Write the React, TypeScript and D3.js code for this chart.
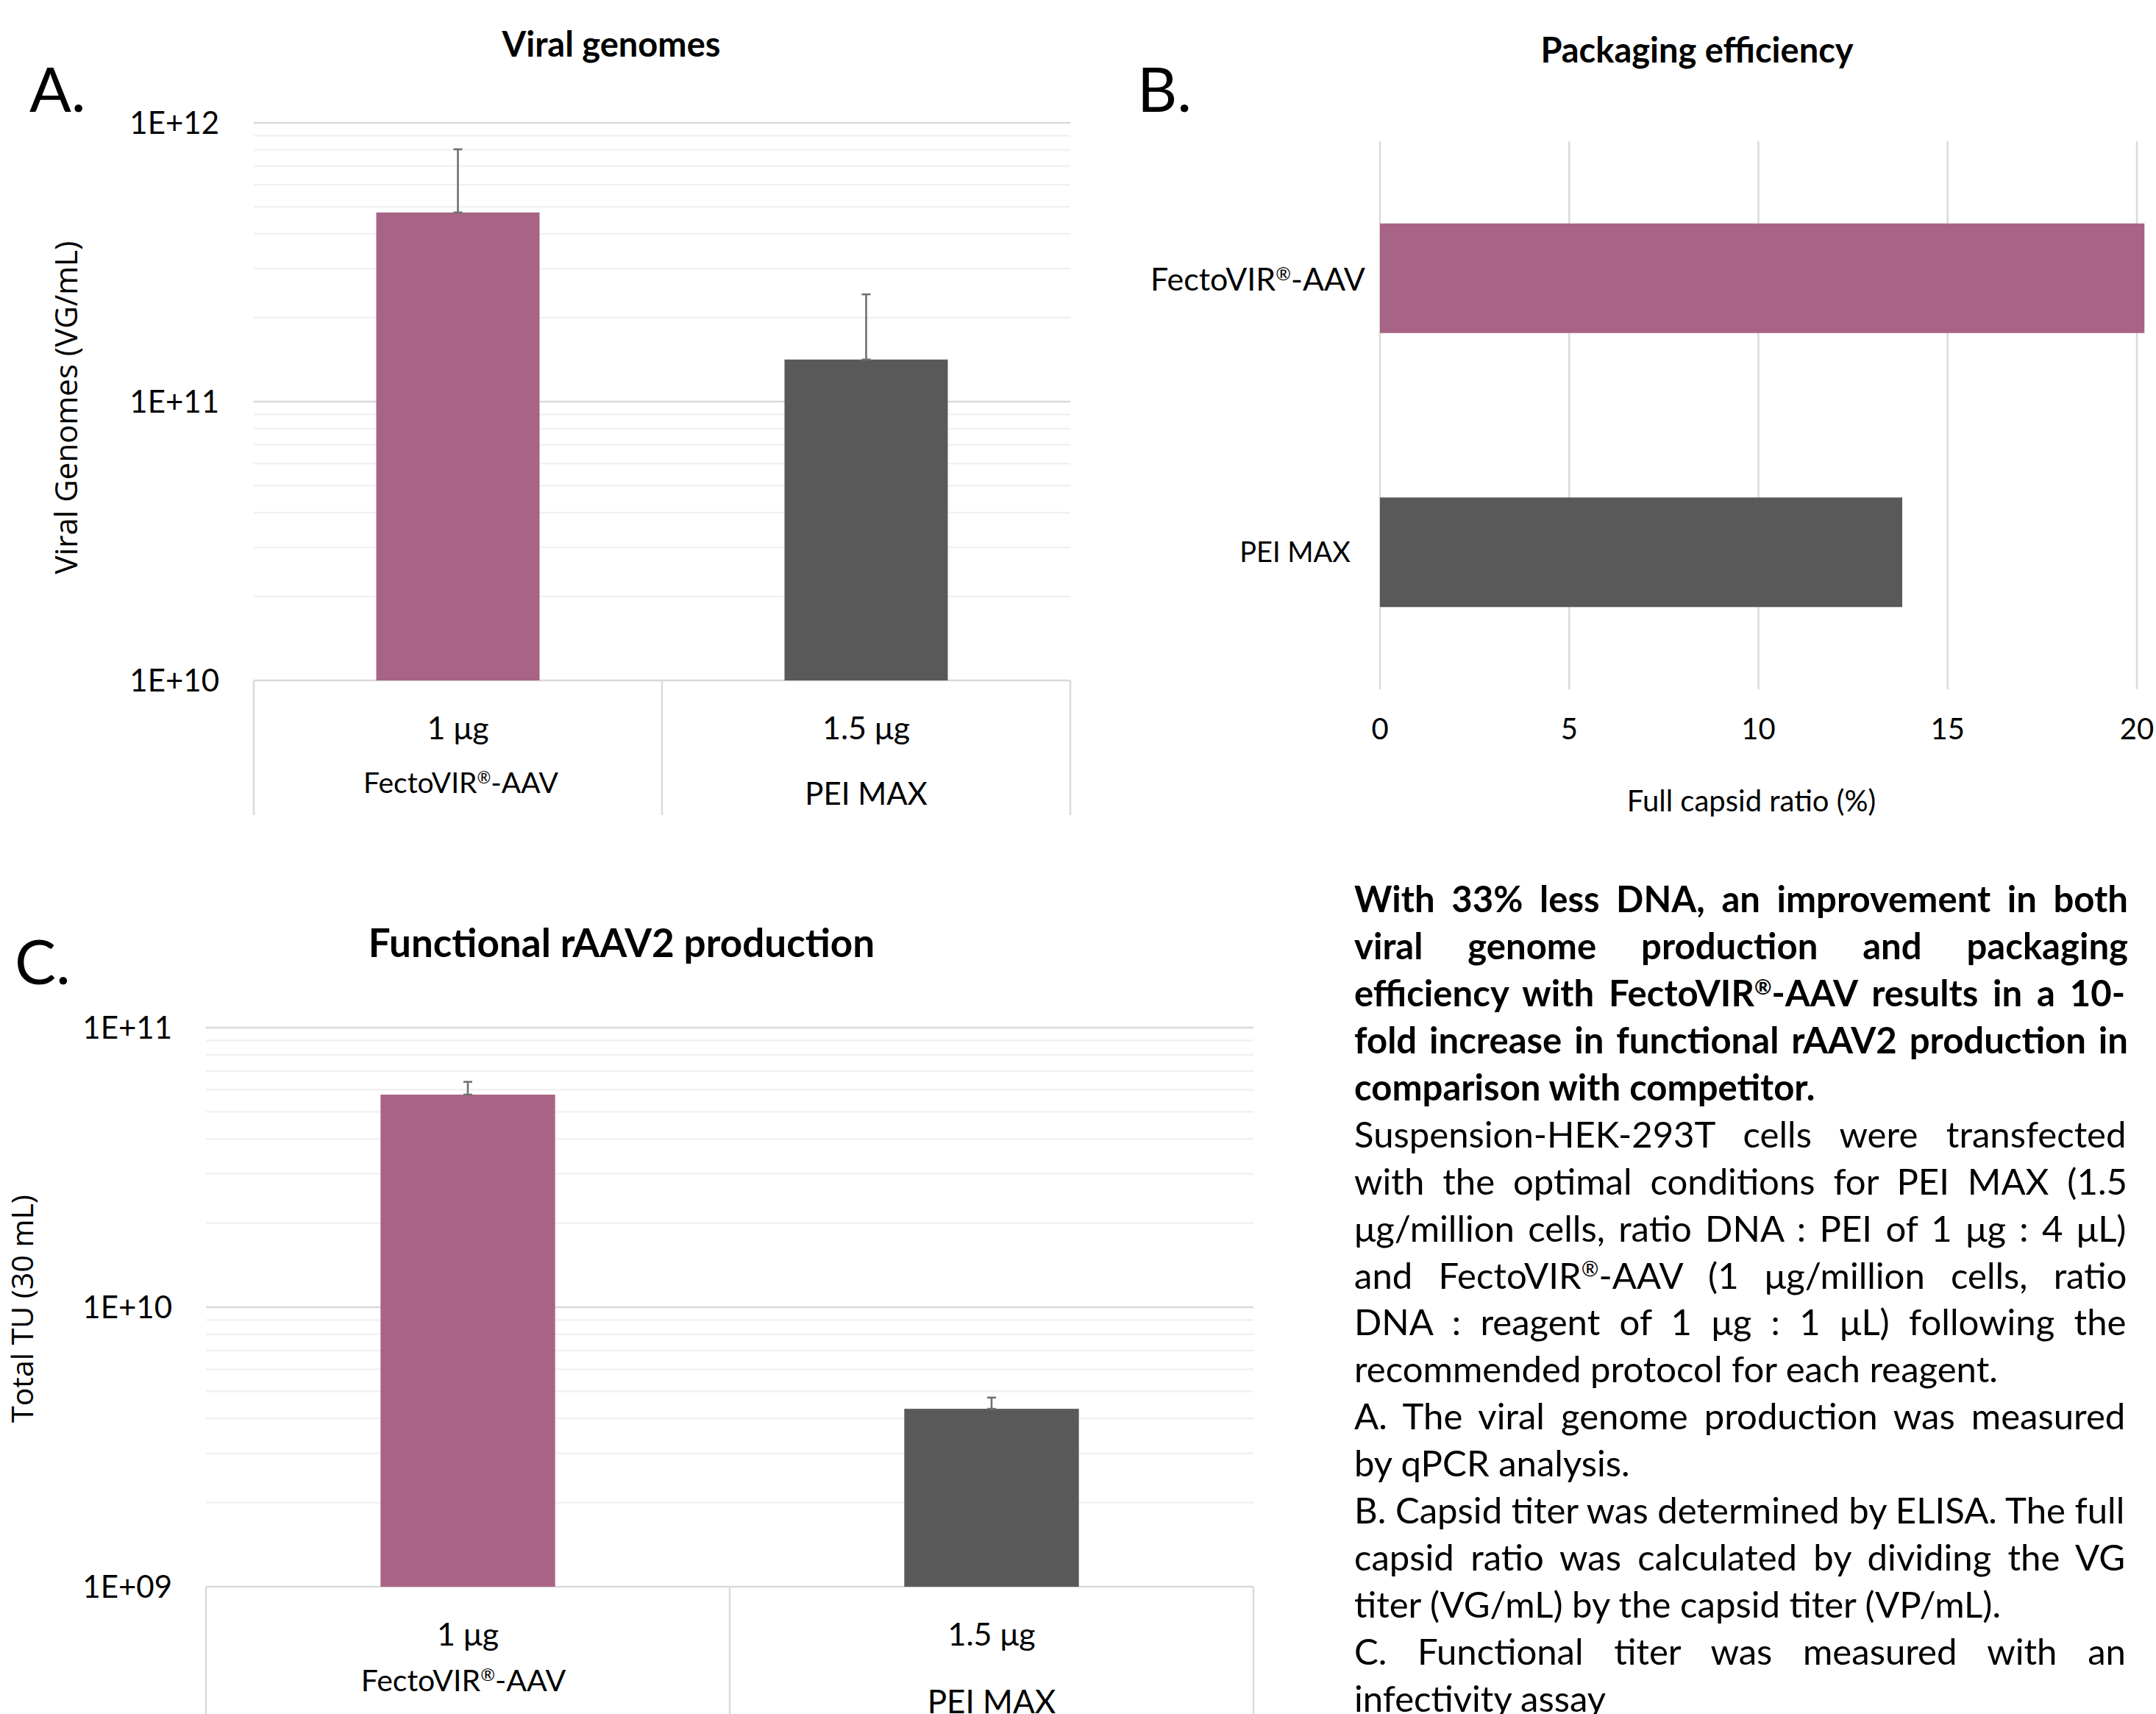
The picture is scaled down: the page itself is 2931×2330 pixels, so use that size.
import React, { useMemo } from "react";
import * as d3 from "d3";

// ---------- DATA ----------
const doseLabels = ["1 μg", "1.5 μg"];
const reagents = ["FectoVIR®-AAV", "PEI MAX"];

// A. Viral genomes (VG/mL)
const viralGenomes = [4.77e11, 1.416e11];
const viralGenomesErr = [3.27e11, 1.01e11];
const ticksA = [1e10, 1e11, 1e12];

// B. Packaging efficiency (Full capsid ratio %)
const fullCapsidRatio = [20.2, 13.8];
const ticksB = [0, 5, 10, 15, 20];

// C. Functional rAAV2 production (Total TU in 30 mL)
const totalTU = [5.76e10, 4.33e9];
const totalTUErr = [0.64e10, 0.42e9];
const ticksC = [1e9, 1e10, 1e11];

const boldLines = [
  "With 33% less DNA, an improvement in both",
  "viral genome production and packaging",
  "efficiency with FectoVIR®-AAV results in a 10-",
  "fold increase in functional rAAV2 production in",
  "comparison with competitor.",
];
const regularParagraphs = [
  [
    "Suspension-HEK-293T cells were transfected",
    "with the optimal conditions for PEI MAX (1.5",
    "μg/million cells, ratio DNA : PEI of 1 μg : 4 μL)",
    "and FectoVIR®-AAV (1 μg/million cells, ratio",
    "DNA : reagent of 1 μg : 1 μL) following the",
    "recommended protocol for each reagent.",
  ],
  ["A. The viral genome production was measured", "by qPCR analysis."],
  [
    "B. Capsid titer was determined by ELISA. The full",
    "capsid ratio was calculated by dividing the VG",
    "titer (VG/mL) by the capsid titer (VP/mL).",
  ],
  ["C. Functional titer was measured with an", "infectivity assay"],
];

// ---------- STYLE ----------
const FONT = 'Lato, "Open Sans", sans-serif';
const AXIS_FONT = '"Open Sans", "Noto Sans", sans-serif';
const PINK = "#A86486";
const GREY = "#595959";
const MAJOR = "#d9d9d9";
const MINOR = "#f0f0f0";
const ERR = "#707070";
const SUP = 0.58;
const SUPDY = 0.33;

const expLabel = (v: number) => "1E+" + String(Math.round(Math.log10(v))).padStart(2, "0");

// renders a string, turning "®" into a small superscript
function Rich({ text, size }: { text: string; size: number }) {
  const parts = text.split("®");
  const out: React.ReactNode[] = [];
  parts.forEach((p, i) => {
    if (i > 0) {
      out.push(
        <tspan key={"r" + i} fontSize={size * SUP} dy={-size * SUPDY}>®</tspan>
      );
      out.push(
        <tspan key={"p" + i} fontSize={size} dy={size * SUPDY}>{p}</tspan>
      );
    } else if (p) {
      out.push(<tspan key={"p" + i}>{p}</tspan>);
    }
  });
  return <>{out}</>;
}

function minorValues(domain: [number, number]) {
  const out: number[] = [];
  for (let e = Math.log10(domain[0]); e < Math.log10(domain[1]); e++) {
    for (let m = 2; m <= 9; m++) out.push(m * Math.pow(10, e));
  }
  return out;
}

function LogBarPanel(props: {
  x0: number; x1: number; yTop: number; yBot: number; domain: [number, number];
  values: number[]; errs: number[]; ticks: number[]; barFrac: number;
  tableBottom: number; tickRight: number; doseBase: number; reagentBase: number[];
  reagentSize: number[]; reagentDx: number[];
}) {
  const p = props;
  const y = d3.scaleLog().domain(p.domain).range([p.yBot, p.yTop]);
  const x = d3.scaleBand<string>().domain(reagents).range([p.x0, p.x1]).paddingInner(0).paddingOuter(0);
  const bw = x.bandwidth() * p.barFrac;
  return (
    <g>
      {minorValues(p.domain).map((v, i) => (
        <line key={"mi" + i} x1={p.x0} x2={p.x1} y1={y(v)} y2={y(v)} stroke={MINOR} strokeWidth={2.2} />
      ))}
      {p.ticks.map((v, i) => (
        <line key={"ma" + i} x1={p.x0} x2={p.x1} y1={y(v)} y2={y(v)} stroke={MAJOR} strokeWidth={2.4} />
      ))}
      {p.ticks.map((v, i) => (
        <text key={"t" + i} x={p.tickRight} y={y(v) + 15} textAnchor="end" fontSize={42} fontFamily={FONT} fill="#000">
          {expLabel(v)}
        </text>
      ))}
      {[p.x0, ...reagents.map((r) => (x(r) as number) + x.bandwidth())].map((xx, i) => (
        <line key={"v" + i} x1={xx} x2={xx} y1={p.yBot} y2={p.tableBottom} stroke={MAJOR} strokeWidth={2.4} />
      ))}
      {reagents.map((r, i) => {
        const cx = (x(r) as number) + x.bandwidth() / 2;
        return (
          <g key={"lab" + i}>
            <text x={cx} y={p.doseBase} textAnchor="middle" fontSize={43} fontFamily={FONT}>{doseLabels[i]}</text>
            <text x={cx + p.reagentDx[i]} y={p.reagentBase[i]} textAnchor="middle" fontSize={p.reagentSize[i]} fontFamily={FONT}>
              <Rich text={r} size={p.reagentSize[i]} />
            </text>
          </g>
        );
      })}
      {reagents.map((r, i) => {
        const cx = (x(r) as number) + x.bandwidth() / 2;
        return (
          <rect key={"b" + i} x={cx - bw / 2} y={y(p.values[i])} width={bw} height={p.yBot - y(p.values[i])} fill={i === 0 ? PINK : GREY} />
        );
      })}
      {reagents.map((r, i) => {
        const cx = (x(r) as number) + x.bandwidth() / 2;
        const yv = y(p.values[i]);
        const ye = y(p.values[i] + p.errs[i]);
        return (
          <g key={"e" + i} stroke={ERR} strokeWidth={2.6}>
            <line x1={cx} x2={cx} y1={yv} y2={ye} />
            <line x1={cx - 6} x2={cx + 6} y1={ye} y2={ye} />
            <line x1={cx - 6} x2={cx + 6} y1={yv} y2={yv} />
          </g>
        );
      })}
    </g>
  );
}

function BarPanelB() {
  const x = d3.scaleLinear().domain([0, 20]).range([1876, 2905]);
  const y = d3.scaleBand<string>().domain(reagents).range([192, 937]).paddingInner(0).paddingOuter(0);
  const bh = y.bandwidth() * 0.4;
  const labelRight = [1856, 1836];
  const labelBase = [395, 764];
  const labelSize = [43, 38];
  return (
    <g>
      {ticksB.map((t, i) => (
        <line key={"g" + i} x1={x(t)} x2={x(t)} y1={192} y2={937} stroke={MAJOR} strokeWidth={2.4} />
      ))}
      {ticksB.map((t, i) => (
        <text key={"t" + i} x={x(t)} y={1005} textAnchor="middle" fontSize={40} fontFamily={FONT}>{t}</text>
      ))}
      {reagents.map((r, i) => {
        const yc = (y(r) as number) + y.bandwidth() / 2;
        return (
          <rect key={"b" + i} x={x(0)} y={yc - bh / 2} width={x(fullCapsidRatio[i]) - x(0)} height={bh} fill={i === 0 ? PINK : GREY} />
        );
      })}
      {reagents.map((r, i) => (
        <text key={"l" + i} x={labelRight[i]} y={labelBase[i]} textAnchor="end" fontSize={labelSize[i]} fontFamily={FONT}>
          <Rich text={r} size={labelSize[i]} />
        </text>
      ))}
      <text x={2381} y={1103} textAnchor="middle" fontSize={40} fontFamily={FONT}>Full capsid ratio (%)</text>
      <text x={2307} y={85} textAnchor="middle" fontSize={47} fontWeight="bold" fontFamily={FONT}>Packaging efficiency</text>
    </g>
  );
}

function TextBlock() {
  const W = 1052;
  const X0 = 1841;
  const base0 = 1240;
  const lh = 63.94;
  const lines = useMemo(() => {
    const ctx = document.createElement("canvas").getContext("2d") as CanvasRenderingContext2D;
    const measureRaw = (t: string, bold: boolean, size: number) => {
      ctx.font = `${bold ? "bold " : ""}${size}px Lato`;
      return ctx.measureText(t).width;
    };
    const measure = (t: string, bold: boolean, size: number) => {
      const parts = t.split("®");
      let w = 0;
      parts.forEach((p) => (w += measureRaw(p, bold, size)));
      w += (parts.length - 1) * measureRaw("®", bold, size * SUP);
      return w;
    };
    type L = { text: string; bold: boolean; justify: boolean };
    const all: L[] = [];
    boldLines.forEach((t, i) => all.push({ text: t, bold: true, justify: i < boldLines.length - 1 }));
    regularParagraphs.forEach((para) =>
      para.forEach((t, i) => all.push({ text: t, bold: false, justify: i < para.length - 1 }))
    );
    let size = 50.5;
    let maxRatio = 0;
    all.forEach((l) => {
      if (l.justify) maxRatio = Math.max(maxRatio, measure(l.text, l.bold, size) / W);
    });
    if (maxRatio > 1.0) size = (size * 1.0) / maxRatio;
    return all.map((l) => {
      const nat = measure(l.text, l.bold, size);
      const spaces = (l.text.match(/ /g) || []).length;
      const ws = l.justify && spaces > 0 ? (W - nat) / spaces : 0;
      return { ...l, size, ws };
    });
  }, []);
  return (
    <g>
      {lines.map((l, i) => (
        <text key={i} x={X0} y={base0 + i * lh} fontSize={l.size} fontWeight={l.bold ? "bold" : "normal"} fontFamily={FONT} wordSpacing={l.ws} style={{ whiteSpace: "pre" }}>
          <Rich text={l.text} size={l.size} />
        </text>
      ))}
    </g>
  );
}

export default function App() {
  return (
    <svg width={2931} height={2330} style={{ position: "absolute", left: 0, top: 0, background: "#fff" }} xmlns="http://www.w3.org/2000/svg">
      <rect x={0} y={0} width={2931} height={2330} fill="#fff" />
      {/* Panel letters */}
      <text x={40} y={152} fontSize={84} fontFamily={FONT}>A.</text>
      <text x={1546} y={152} fontSize={84} fontFamily={FONT}>B.</text>
      <text x={20} y={1338} fontSize={84} fontFamily={FONT}>C.</text>

      {/* Panel A */}
      <text x={831} y={77} textAnchor="middle" fontSize={47} fontWeight="bold" fontFamily={FONT}>Viral genomes</text>
      <LogBarPanel x0={345} x1={1455} yTop={167} yBot={925} domain={[1e10, 1e12]} values={viralGenomes} errs={viralGenomesErr}
        ticks={ticksA} barFrac={0.4} tableBottom={1108} tickRight={298} doseBase={1005} reagentBase={[1078, 1094]} reagentSize={[39, 42]} reagentDx={[4, 0]} />
      <text transform="translate(105,554) rotate(-90)" textAnchor="middle" fontSize={42} fontFamily={AXIS_FONT}>Viral Genomes (VG/mL)</text>

      {/* Panel B */}
      <BarPanelB />

      {/* Panel C */}
      <text x={845} y={1301} textAnchor="middle" fontSize={53} fontWeight="bold" fontFamily={FONT}>Functional rAAV2 production</text>
      <LogBarPanel x0={280} x1={1704} yTop={1397} yBot={2157} domain={[1e9, 1e11]} values={totalTU} errs={totalTUErr}
        ticks={ticksC} barFrac={1 / 3} tableBottom={2330} tickRight={234} doseBase={2237} reagentBase={[2299, 2329]} reagentSize={[41, 44]} reagentDx={[-6, 0]} />
      <text transform="translate(45,1779) rotate(-90)" textAnchor="middle" fontSize={41} fontFamily={AXIS_FONT}>Total TU (30 mL)</text>

      {/* Text block */}
      <TextBlock />
    </svg>
  );
}
